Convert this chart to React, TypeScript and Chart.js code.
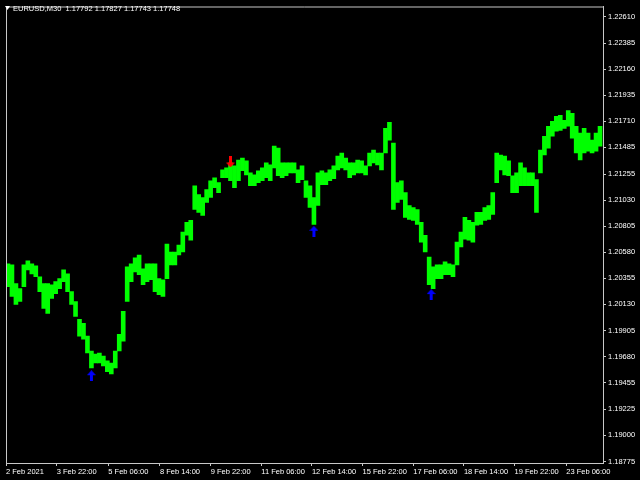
import React, { useEffect, useRef } from "react";
import { Chart, registerables } from "chart.js";
Chart.register(...registerables);

// Column-wise price ranges (each column ≈ a few M30 bars)
const highs = [
  1.20480, 1.20471, 1.20309, 1.20266, 1.20471, 1.20505, 1.20480, 1.20463, 1.20369, 1.20309,
  1.20309, 1.20300, 1.20326, 1.20352, 1.20428, 1.20394, 1.20240, 1.20155, 1.20001, 1.19967,
  1.19856, 1.19728, 1.19702, 1.19711, 1.19685, 1.19643, 1.19625, 1.19728, 1.19873, 1.20070,
  1.20454, 1.20480, 1.20531, 1.20556, 1.20437, 1.20480, 1.20480, 1.20480, 1.20352, 1.20343,
  1.20650, 1.20582, 1.20582, 1.20642, 1.20753, 1.20838, 1.20855, 1.21154, 1.21077, 1.21052,
  1.21120, 1.21197, 1.21223, 1.21180, 1.21291, 1.21308, 1.21351, 1.21325, 1.21376, 1.21393,
  1.21368, 1.21265, 1.21248, 1.21283, 1.21308, 1.21351, 1.21334, 1.21496, 1.21478, 1.21351,
  1.21351, 1.21351, 1.21351, 1.21291, 1.21325, 1.21197, 1.21154, 1.21052, 1.21265, 1.21283,
  1.21265, 1.21291, 1.21325, 1.21410, 1.21436, 1.21393, 1.21351, 1.21351, 1.21376, 1.21368,
  1.21325, 1.21436, 1.21461, 1.21436, 1.21436, 1.21649, 1.21701, 1.21521, 1.21180, 1.21197,
  1.21094, 1.20983, 1.20966, 1.20949, 1.20838, 1.20727, 1.20539, 1.20454, 1.20471, 1.20471,
  1.20497, 1.20480, 1.20471, 1.20667, 1.20753, 1.20881, 1.20855, 1.20838, 1.20924, 1.20924,
  1.20966, 1.20983, 1.21094, 1.21436, 1.21419, 1.21410, 1.21368, 1.21240, 1.21265, 1.21351,
  1.21308, 1.21265, 1.21265, 1.21206, 1.21461, 1.21581, 1.21667, 1.21709, 1.21752, 1.21761,
  1.21718, 1.21803, 1.21778, 1.21667, 1.21607, 1.21649, 1.21607, 1.21547, 1.21607, 1.21667,
];
const lows = [
  1.20283, 1.20198, 1.20129, 1.20155, 1.20283, 1.20428, 1.20394, 1.20369, 1.20240, 1.20095,
  1.20053, 1.20181, 1.20223, 1.20266, 1.20326, 1.20240, 1.20129, 1.20027, 1.19856, 1.19830,
  1.19711, 1.19583, 1.19625, 1.19625, 1.19600, 1.19549, 1.19531, 1.19583, 1.19728, 1.19813,
  1.20155, 1.20326, 1.20411, 1.20386, 1.20300, 1.20326, 1.20343, 1.20240, 1.20215, 1.20198,
  1.20352, 1.20471, 1.20471, 1.20556, 1.20582, 1.20727, 1.20684, 1.20949, 1.20924, 1.20898,
  1.21009, 1.21052, 1.21137, 1.21094, 1.21223, 1.21223, 1.21197, 1.21137, 1.21197, 1.21283,
  1.21248, 1.21154, 1.21154, 1.21180, 1.21197, 1.21223, 1.21197, 1.21308, 1.21240, 1.21223,
  1.21240, 1.21265, 1.21265, 1.21180, 1.21206, 1.21052, 1.20966, 1.20821, 1.20983, 1.21163,
  1.21163, 1.21197, 1.21214, 1.21291, 1.21308, 1.21291, 1.21223, 1.21248, 1.21265, 1.21265,
  1.21248, 1.21325, 1.21351, 1.21334, 1.21291, 1.21436, 1.21547, 1.20949, 1.21009, 1.21035,
  1.20881, 1.20864, 1.20855, 1.20821, 1.20667, 1.20582, 1.20300, 1.20266, 1.20352, 1.20352,
  1.20386, 1.20386, 1.20369, 1.20471, 1.20625, 1.20693, 1.20684, 1.20667, 1.20813, 1.20821,
  1.20855, 1.20864, 1.20907, 1.21180, 1.21291, 1.21248, 1.21240, 1.21094, 1.21094, 1.21154,
  1.21154, 1.21154, 1.21154, 1.20924, 1.21265, 1.21419, 1.21478, 1.21581, 1.21624, 1.21632,
  1.21649, 1.21667, 1.21564, 1.21436, 1.21376, 1.21436, 1.21453, 1.21436, 1.21453, 1.21496,
];

const upSignalX = [21, 77, 106.5];
const upSignalY = [1.19515, 1.20761, 1.20215];
const downSignalX = [56];
const downSignalY = [1.21359];

const yTicks = [
  1.2261, 1.22385, 1.2216, 1.21935, 1.2171, 1.21485, 1.21255, 1.2103, 1.20805,
  1.2058, 1.20355, 1.2013, 1.19905, 1.1968, 1.19455, 1.19225, 1.19, 1.18775,
];
const yMin = 1.18762;
const yMax = 1.227;

const xTickPos = [-0.5, 12.25, 25.25, 38.25, 51, 63.75, 76.5, 89.25, 102, 114.75, 127.5, 140.5];
const xTickLabels = [
  "2 Feb 2021", "3 Feb 22:00", "5 Feb 06:00", "8 Feb 14:00", "9 Feb 22:00", "11 Feb 06:00",
  "12 Feb 14:00", "15 Feb 22:00", "17 Feb 06:00", "18 Feb 14:00", "19 Feb 22:00", "23 Feb 06:00",
];
const xMin = -0.5;
const xMax = 149.75;

const symbolTitle = "EURUSD,M30";
const quotes = ["1.17792", "1.17827", "1.17743", "1.17748"];

const FONT = "'Liberation Sans', Arial, sans-serif";
const AXIS_COLOR = "#c8c8c8";

function makeArrow(color: string, up: boolean) {
  const c = document.createElement("canvas");
  c.width = 9;
  c.height = 11;
  const g = c.getContext("2d")!;
  g.fillStyle = color;
  g.beginPath();
  if (up) {
    g.moveTo(4.5, 0);
    g.lineTo(9, 5);
    g.lineTo(0, 5);
    g.closePath();
    g.fill();
    g.fillRect(3, 5, 3, 6);
  } else {
    g.moveTo(4.5, 11);
    g.lineTo(9, 6);
    g.lineTo(0, 6);
    g.closePath();
    g.fill();
    g.fillRect(3, 0, 3, 6);
  }
  return c;
}

export default function App() {
  const ref = useRef<HTMLCanvasElement | null>(null);

  useEffect(() => {
    document.body.style.margin = "0";
    document.body.style.background = "#000";
    const canvas = ref.current!;
    const upArrow = makeArrow("#0000ff", true);
    const downArrow = makeArrow("#ff0000", false);

    const framePlugin = {
      id: "mtFrame",
      beforeDraw(chart: any) {
        const { ctx, width, height } = chart;
        ctx.save();
        ctx.fillStyle = "#000";
        ctx.fillRect(0, 0, width, height);
        ctx.restore();
      },
      afterDraw(chart: any) {
        const { ctx, chartArea } = chart;
        ctx.save();
        ctx.strokeStyle = AXIS_COLOR;
        ctx.lineWidth = 1;
        ctx.beginPath();
        ctx.moveTo(chartArea.left + 0.5, chartArea.bottom);
        ctx.lineTo(chartArea.left + 0.5, chartArea.top + 0.5);
        ctx.lineTo(chartArea.right, chartArea.top + 0.5);
        ctx.stroke();
        // header
        ctx.fillStyle = "#ffffff";
        ctx.beginPath();
        ctx.moveTo(5, 6);
        ctx.lineTo(10, 6);
        ctx.lineTo(7.5, 10);
        ctx.closePath();
        ctx.fill();
        ctx.font = `7.5px ${FONT}`;
        ctx.textBaseline = "middle";
        ctx.textAlign = "left";
        ctx.fillText(symbolTitle + "  " + quotes.join(" "), 13, 8.5);
        ctx.restore();
      },
    };

    const chart = new Chart(canvas, {
      type: "bar",
      data: {
        datasets: [
          {
            type: "bar",
            data: highs.map((h, i) => ({ x: i, y: [lows[i], h] })) as any,
            backgroundColor: "#00ff00",
            borderWidth: 0,
            barPercentage: 1,
            categoryPercentage: 1,
            order: 2,
          } as any,
          {
            type: "scatter",
            data: upSignalX.map((x, i) => ({ x, y: upSignalY[i] })),
            pointStyle: upArrow as any,
            pointRadius: 5,
            order: 1,
          } as any,
          {
            type: "scatter",
            data: downSignalX.map((x, i) => ({ x, y: downSignalY[i] })),
            pointStyle: downArrow as any,
            pointRadius: 5,
            order: 1,
          } as any,
        ],
      },
      options: {
        animation: false,
        responsive: false,
        maintainAspectRatio: false,
        layout: { padding: { top: 2, left: 2, right: 0, bottom: 0 } },
        plugins: { legend: { display: false }, tooltip: { enabled: false } },
        scales: {
          x: {
            type: "linear",
            min: xMin,
            max: xMax,
            offset: false,
            grid: {
              offset: false,
              drawOnChartArea: false,
              drawTicks: true,
              tickLength: 3,
              color: AXIS_COLOR,
            },
            border: { display: true, color: AXIS_COLOR },
            afterBuildTicks: (scale: any) => {
              scale.ticks = xTickPos.map((v) => ({ value: v }));
            },
            afterFit: (scale: any) => {
              scale.height = 17;
            },
            ticks: {
              autoSkip: false,
              maxRotation: 0,
              minRotation: 0,
              align: "start",
              padding: 1,
              color: "#ffffff",
              font: { family: FONT, size: 7.5 },
              callback: (_v: any, idx: number) => xTickLabels[idx],
            },
          },
          y: {
            type: "linear",
            position: "right",
            min: yMin,
            max: yMax,
            grid: {
              drawOnChartArea: false,
              drawTicks: true,
              tickLength: 3,
              color: AXIS_COLOR,
            },
            border: { display: true, color: AXIS_COLOR },
            afterBuildTicks: (scale: any) => {
              scale.ticks = yTicks.map((v) => ({ value: v }));
            },
            afterFit: (scale: any) => {
              scale.width = 37;
            },
            ticks: {
              autoSkip: false,
              padding: 2,
              color: "#ffffff",
              font: { family: FONT, size: 7.5 },
              callback: (v: any) => Number(v).toFixed(5),
            },
          },
        },
      } as any,
      plugins: [framePlugin],
    });
    return () => chart.destroy();
  }, []);

  return (
    <div style={{ width: 640, height: 480, background: "#000" }}>
      <canvas ref={ref} width={640} height={480} style={{ display: "block" }} />
    </div>
  );
}
